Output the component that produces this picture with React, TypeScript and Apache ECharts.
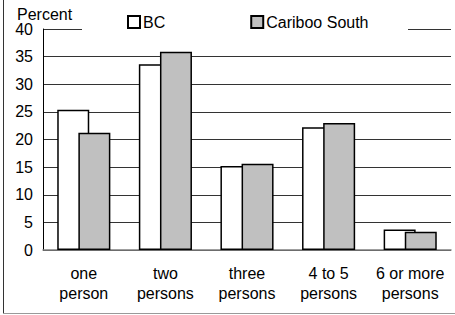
import React, { useEffect, useRef } from "react";
import * as echarts from "echarts";

const categories = ["one\nperson", "two\npersons", "three\npersons", "4 to 5\npersons", "6 or more\npersons"];
const seriesNames = ["BC", "Cariboo South"];
const bcValues = [25.4, 33.6, 15.2, 22.2, 3.7];
const caribooValues = [21.2, 35.9, 15.6, 23.0, 3.3];
const yTicks = [0, 40, 5];
const yAxisTitle = "Percent";

const FONT = "'Liberation Sans', Arial, sans-serif";

export default function App() {
  const ref = useRef<HTMLDivElement>(null);
  useEffect(() => {
    document.body.style.margin = "0";
    const chart = echarts.init(ref.current!, null, { renderer: "svg" });
    chart.setOption({
      animation: false,
      backgroundColor: "#ffffff",
      textStyle: { fontFamily: FONT },
      grid: { left: 43, right: 4, top: 29, bottom: 65, containLabel: false },
      legend: {
        data: seriesNames,
        left: 122,
        top: 9,
        itemWidth: 12,
        itemHeight: 12,
        itemGap: 85,
        icon: "rect",
        textStyle: { fontFamily: FONT, fontSize: 16, color: "#000", padding: [0, 0, 0, -2] },
        z: 5,
      },
      graphic: [
        { type: "rect", z: 3, shape: { x: 82, y: 4, width: 326, height: 30 }, style: { fill: "#ffffff" } },
        {
          type: "text", z: 6, x: 17, y: 6,
          style: { text: yAxisTitle, font: `16px ${FONT}`, fill: "#000" },
        },
        { type: "line", z: 6, shape: { x1: 3.5, y1: 0, x2: 3.5, y2: 313.5 }, style: { stroke: "#333", lineWidth: 1 } },
        { type: "line", z: 6, shape: { x1: 3.5, y1: 313.5, x2: 455, y2: 313.5 }, style: { stroke: "#999", lineWidth: 1 } },
      ],
      xAxis: {
        type: "category",
        data: categories,
        axisLine: { show: true, lineStyle: { color: "#808080", width: 1.5 } },
        axisTick: { show: false },
        axisLabel: { color: "#000", fontSize: 16, lineHeight: 20, margin: 13, interval: 0, fontFamily: FONT },
        splitLine: { show: false },
      },
      yAxis: {
        type: "value",
        min: yTicks[0],
        max: yTicks[1],
        interval: yTicks[2],
        axisLine: { show: true, lineStyle: { color: "#000", width: 1 } },
        axisTick: { show: false },
        axisLabel: { color: "#000", fontSize: 16, margin: 10, fontFamily: FONT },
        splitLine: { show: true, lineStyle: { color: "#333", width: 1 } },
      },
      series: [
        {
          name: seriesNames[0],
          type: "bar",
          data: bcValues,
          barWidth: 32,
          barGap: "-34%",
          itemStyle: { color: "#ffffff", borderColor: "#000", borderWidth: 1.5 },
        },
        {
          name: seriesNames[1],
          type: "bar",
          data: caribooValues,
          barWidth: 32,
          itemStyle: { color: "#c0c0c0", borderColor: "#000", borderWidth: 1.5 },
        },
      ],
    });
    return () => chart.dispose();
  }, []);
  return <div ref={ref} style={{ position: "fixed", left: 0, top: 0, width: 455, height: 315 }} />;
}
